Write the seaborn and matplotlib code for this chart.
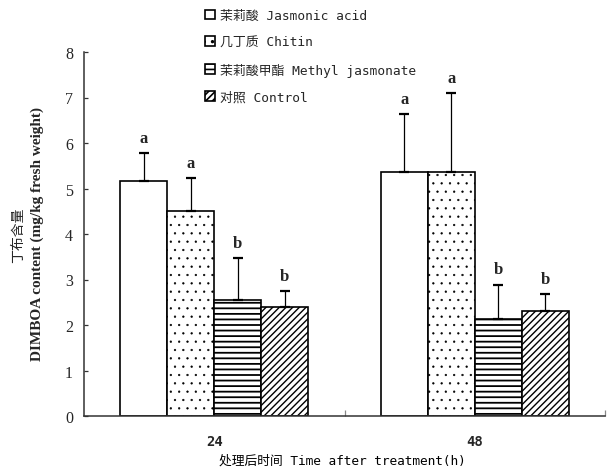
#!/usr/bin/env python3
"""
DIMBOA content of leaves after elicitor treatment (24 h / 48 h).
Grouped bar chart with one-sided error bars and significance letters.
"""

import pandas as pd
import matplotlib
matplotlib.use('Agg')
import matplotlib.pyplot as plt
import seaborn as sns

# Data
times = ['24', '48']
treatments = ['茉莉酸 Jasmonic acid', '几丁质 Chitin',
              '茉莉酸甲酯 Methyl jasmonate', '对照 Control']

ja_mean = [5.16, 5.37]
chitin_mean = [4.51, 5.37]
meja_mean = [2.55, 2.13]
control_mean = [2.40, 2.30]

ja_err = [0.62, 1.27]
chitin_err = [0.71, 1.72]
meja_err = [0.92, 0.76]
control_err = [0.34, 0.38]

ja_letters = ['a', 'a']
chitin_letters = ['a', 'a']
meja_letters = ['b', 'b']
control_letters = ['b', 'b']

HATCHES = ['', '..', '---', '/////']
HATCH_LW = [1.2, 0.4, 1.3, 1.0]
MONO = ['DejaVu Sans Mono', 'Noto Sans CJK SC']
SERIF = ['Liberation Serif', 'Noto Sans CJK SC']


def build_frame():
    """Long-format table for seaborn."""
    means = [ja_mean, chitin_mean, meja_mean, control_mean]
    errs = [ja_err, chitin_err, meja_err, control_err]
    letters = [ja_letters, chitin_letters, meja_letters, control_letters]
    rows = []
    for name, m, e, l in zip(treatments, means, errs, letters):
        for t, mv, ev, lv in zip(times, m, e, l):
            rows.append({'time': t, 'treatment': name, 'mean': mv,
                         'err': ev, 'letter': lv})
    return pd.DataFrame(rows)


def main():
    sns.set_theme(style='white')
    plt.rcParams['hatch.linewidth'] = 1.2
    plt.rcParams['font.family'] = MONO

    df = build_frame()

    fig = plt.figure(figsize=(6.11, 4.77), dpi=100)
    ax = fig.add_axes([84 / 611, 1 - 417 / 477, 521 / 611, 364 / 477])

    sns.barplot(data=df, x='time', y='mean', hue='treatment',
                order=times, hue_order=treatments,
                palette=['white'] * 4, edgecolor='black', linewidth=1.2,
                width=0.722, errorbar=None, legend=False, ax=ax)
    bar_groups = list(ax.containers)

    # hatches, error bars and letters per treatment
    for cont, name, hatch, hlw in zip(bar_groups, treatments, HATCHES, HATCH_LW):
        sub = df[df['treatment'] == name].set_index('time')
        for bar, t in zip(cont, times):
            bar.set_hatch(hatch)
            if hasattr(bar, 'set_hatch_linewidth'):
                bar.set_hatch_linewidth(hlw)
            x = bar.get_x() + bar.get_width() / 2
            y = bar.get_height()
            e = sub.loc[t, 'err']
            ax.errorbar(x, y, yerr=[[0], [e]], fmt='none', ecolor='black',
                        elinewidth=0.9, capsize=3.6, capthick=1.6, zorder=3)
            ax.annotate(sub.loc[t, 'letter'], (x, y + e), xytext=(0, 8),
                        textcoords='offset points', ha='center',
                        va='baseline', fontsize=12, fontweight='bold',
                        family=SERIF)

    # axes styling
    ax.set_xlim(-0.5, 1.5)
    ax.set_ylim(0, 8)
    ax.set_yticks(range(9))
    for side in ['top', 'right']:
        ax.spines[side].set_visible(False)
    for side in ['left', 'bottom']:
        ax.spines[side].set_color('#333333')
        ax.spines[side].set_linewidth(1.1)

    ax.tick_params(axis='y', direction='in', length=3, width=0.9,
                   color='#333333', pad=8, left=True)
    for lab in ax.get_yticklabels():
        lab.set_family(SERIF)
        lab.set_fontsize(11.5)

    ax.set_xticks([0, 1])
    ax.set_xticklabels(times)
    ax.tick_params(axis='x', length=0, pad=13)
    for lab in ax.get_xticklabels():
        lab.set_family(MONO)
        lab.set_fontsize(10)
        lab.set_fontweight('bold')
    ax.set_xticks([0.5, 1.5], minor=True)
    ax.tick_params(axis='x', which='minor', direction='in', length=4,
                   width=0.9, color='#888888', bottom=True)

    ax.set_xlabel('处理后时间 Time after treatment(h)', fontsize=9.2,
                  family=MONO, color='black')
    ax.xaxis.set_label_coords(0.495, -0.104)
    ax.set_ylabel('')

    # two-line y label
    fig.text(19 / 611, 1 - 235 / 477, '丁布含量', rotation=90,
             ha='center', va='center', fontsize=10, family=SERIF)
    fig.text(37 / 611, 1 - 234 / 477, 'DIMBOA content (mg/kg fresh weight)',
             rotation=90, ha='center', va='center', fontsize=11,
             fontweight='bold', family=SERIF)

    # legend with hatched squares
    handles = [cont.patches[0] for cont in bar_groups]
    fig.legend(handles, treatments, loc='upper left',
               bbox_to_anchor=(205 / 611, 1 - 10 / 477), frameon=False,
               borderaxespad=0, borderpad=0, handlelength=0.8,
               handleheight=0.8, handletextpad=0.4, labelspacing=1.07,
               prop={'family': MONO, 'size': 9.3})

    fig.savefig('out.png', dpi=100)
    plt.close(fig)


if __name__ == '__main__':
    main()
